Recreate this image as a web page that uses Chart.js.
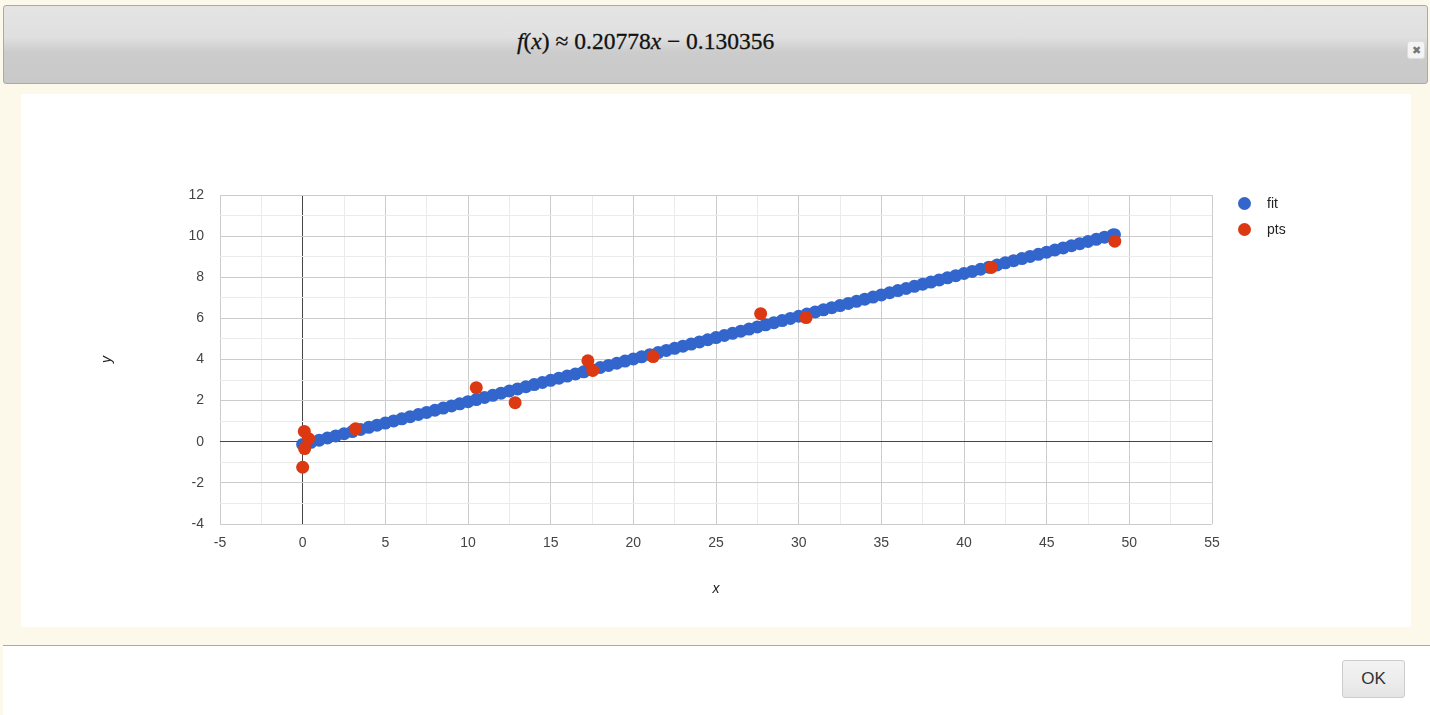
<!DOCTYPE html>
<html>
<head>
<meta charset="utf-8">
<script src="https://cdn.jsdelivr.net/npm/chart.js@4/dist/chart.umd.min.js"></script>
<style>
  html, body { margin: 0; padding: 0; }
  body { width: 1430px; height: 715px; background: #fcf8ea; position: relative; overflow: hidden; font-family: Arial, "Liberation Sans", sans-serif; }
  .header { position: absolute; left: 3px; top: 5px; width: 1423px; height: 77px; border: 1px solid #aaa; border-radius: 3px;
    background: linear-gradient(#e4e4e4 0%, #e0e0e0 40%, #cccccc 60%, #c9c9c9 100%); }
  .title { position: absolute; left: 513px; top: 22px; font-family: "Liberation Serif", serif; font-size: 23.5px; color: #111; white-space: nowrap; -webkit-text-stroke: 0.3px #111; }
  .title i { font-style: italic; }
  .close { position: absolute; left: 1403px; top: 35px; width: 16px; height: 16px; background: #f4f4f4; border: 1px solid #ddd; border-radius: 3px;
    font-size: 11px; color: #777; text-align: center; line-height: 16px; }
  .panel { position: absolute; left: 21px; top: 94px; width: 1390px; height: 533px; background: #fff; }
  #chart { position: absolute; left: 0; top: 0; }
  .legend { position: absolute; left: 1238px; top: 195px; font-size: 14px; color: #222; }
  .legend div { height: 26px; position: relative; }
  .legend span.dot { position: absolute; left: 0; top: 2px; width: 13px; height: 13px; border-radius: 50%; }
  .legend span.lab { position: absolute; left: 29px; top: 0; }
  .footer { position: absolute; left: 3px; top: 645px; width: 1427px; height: 70px; background: #fff; border-top: 1px solid #aaa; }
  .ok { position: absolute; left: 1339px; top: 14px; width: 61px; height: 36px; border: 1px solid #ccc; border-radius: 3px;
    background: linear-gradient(#f3f3f3 0%, #ededed 50%, #e4e4e4 100%); font-size: 17px; color: #333; text-align: center; line-height: 36px; }
</style>
</head>
<body>
<div class="header">
  <div class="title"><i>f</i>(<i>x</i>) ≈ 0.20778<i>x</i> − 0.130356</div>
  <div class="close">✖</div>
</div>
<div class="panel">
  <canvas id="chart" width="1390" height="533"></canvas>
</div>
<div class="legend">
  <div><span class="dot" style="background:#3366cc"></span><span class="lab">fit</span></div>
  <div><span class="dot" style="background:#dc3912"></span><span class="lab">pts</span></div>
</div>
<div class="footer"><div class="ok">OK</div></div>

<script>
// fitted line samples
const fitX = [0, 0.5, 1, 1.5, 2, 2.5, 3, 3.5, 4, 4.5, 5, 5.5, 6, 6.5, 7, 7.5, 8, 8.5, 9, 9.5,
  10, 10.5, 11, 11.5, 12, 12.5, 13, 13.5, 14, 14.5, 15, 15.5, 16, 16.5, 17, 17.5, 18, 18.5, 19, 19.5,
  20, 20.5, 21, 21.5, 22, 22.5, 23, 23.5, 24, 24.5, 25, 25.5, 26, 26.5, 27, 27.5, 28, 28.5, 29, 29.5,
  30, 30.5, 31, 31.5, 32, 32.5, 33, 33.5, 34, 34.5, 35, 35.5, 36, 36.5, 37, 37.5, 38, 38.5, 39, 39.5,
  40, 40.5, 41, 41.5, 42, 42.5, 43, 43.5, 44, 44.5, 45, 45.5, 46, 46.5, 47, 47.5, 48, 48.5, 49, 49.1];
const fitY = [-0.130, -0.026, 0.077, 0.181, 0.285, 0.389, 0.493, 0.597, 0.701, 0.805, 0.909, 1.012, 1.116, 1.220, 1.324, 1.428, 1.532, 1.636, 1.740, 1.844,
  1.947, 2.051, 2.155, 2.259, 2.363, 2.467, 2.571, 2.675, 2.779, 2.882, 2.986, 3.090, 3.194, 3.298, 3.402, 3.506, 3.610, 3.714, 3.817, 3.921,
  4.025, 4.129, 4.233, 4.337, 4.441, 4.545, 4.649, 4.752, 4.856, 4.960, 5.064, 5.168, 5.272, 5.376, 5.480, 5.584, 5.687, 5.791, 5.895, 5.999,
  6.103, 6.207, 6.311, 6.415, 6.519, 6.622, 6.726, 6.830, 6.934, 7.038, 7.142, 7.246, 7.350, 7.454, 7.557, 7.661, 7.765, 7.869, 7.973, 8.077,
  8.181, 8.285, 8.389, 8.492, 8.596, 8.700, 8.804, 8.908, 9.012, 9.116, 9.220, 9.324, 9.427, 9.531, 9.635, 9.739, 9.843, 9.947, 10.051, 10.072];

// data points
const ptsX = [0.0, 0.1, 0.36, 0.12, 3.2, 10.5, 12.85, 17.25, 17.55, 21.2, 27.7, 30.45, 41.65, 49.12];
const ptsY = [-1.24, 0.5, 0.15, -0.33, 0.63, 2.63, 1.9, 3.94, 3.47, 4.14, 6.23, 6.04, 8.48, 9.75];

// axis settings
const xMin = -5, xMax = 55, xStep = 2.5, xLabelEvery = 5;
const yMin = -4, yMax = 12, yStep = 1, yLabelEvery = 2;

const toPoints = (xs, ys) => xs.map((x, i) => ({ x, y: ys[i] }));

function gridColor(every) {
  return (ctx) => {
    const v = ctx.tick ? ctx.tick.value : 0;
    if (Math.abs(v) < 1e-9) return '#444444';
    if (Math.abs(v % every) < 1e-9) return '#cccccc';
    return '#ebebeb';
  };
}

const tickFont = { family: 'Arial, "Liberation Sans", sans-serif', size: 14 };

const ctx = document.getElementById('chart').getContext('2d');
new Chart(ctx, {
  type: 'scatter',
  data: {
    datasets: [
      {
        label: 'pts',
        data: toPoints(ptsX, ptsY),
        backgroundColor: '#dc3912',
        borderColor: '#dc3912',
        pointRadius: 6.5,
        borderWidth: 0,
        order: 0,
      },
      {
        label: 'fit',
        data: toPoints(fitX, fitY),
        backgroundColor: '#3366cc',
        borderColor: '#3366cc',
        pointRadius: 6.5,
        borderWidth: 0,
        order: 1,
      },
    ],
  },
  options: {
    responsive: false,
    animation: false,
    layout: { padding: { left: 78, top: 101, right: 199, bottom: 29 } },
    plugins: {
      legend: { display: false },
      tooltip: { enabled: false },
    },
    scales: {
      x: {
        type: 'linear',
        min: xMin, max: xMax,
        afterFit: (s) => { s.height = 74; },
        border: { display: false },
        grid: { color: gridColor(xLabelEvery), drawTicks: false, lineWidth: 1 },
        ticks: {
          stepSize: xStep, padding: 11, color: '#444', autoSkip: false, maxRotation: 0,
          font: tickFont,
          callback: (v) => (Math.abs(v % xLabelEvery) < 1e-9 ? String(v) : ''),
        },
        title: { display: true, text: 'x', color: '#222', padding: 0,
          font: { family: 'Arial, "Liberation Sans", sans-serif', size: 14, style: 'italic' } },
      },
      y: {
        type: 'linear',
        min: yMin, max: yMax,
        afterFit: (s) => { s.width = 121; },
        border: { display: false },
        grid: { color: gridColor(yLabelEvery), drawTicks: false, lineWidth: 1 },
        ticks: {
          stepSize: yStep, padding: 16, color: '#444', autoSkip: false,
          font: tickFont,
          callback: (v) => (Math.abs(v % yLabelEvery) < 1e-9 ? String(v) : ''),
        },
        title: { display: true, text: 'y', color: '#222', padding: 0,
          font: { family: 'Arial, "Liberation Sans", sans-serif', size: 14, style: 'italic' } },
      },
    },
  },
});
</script>
</body>
</html>
